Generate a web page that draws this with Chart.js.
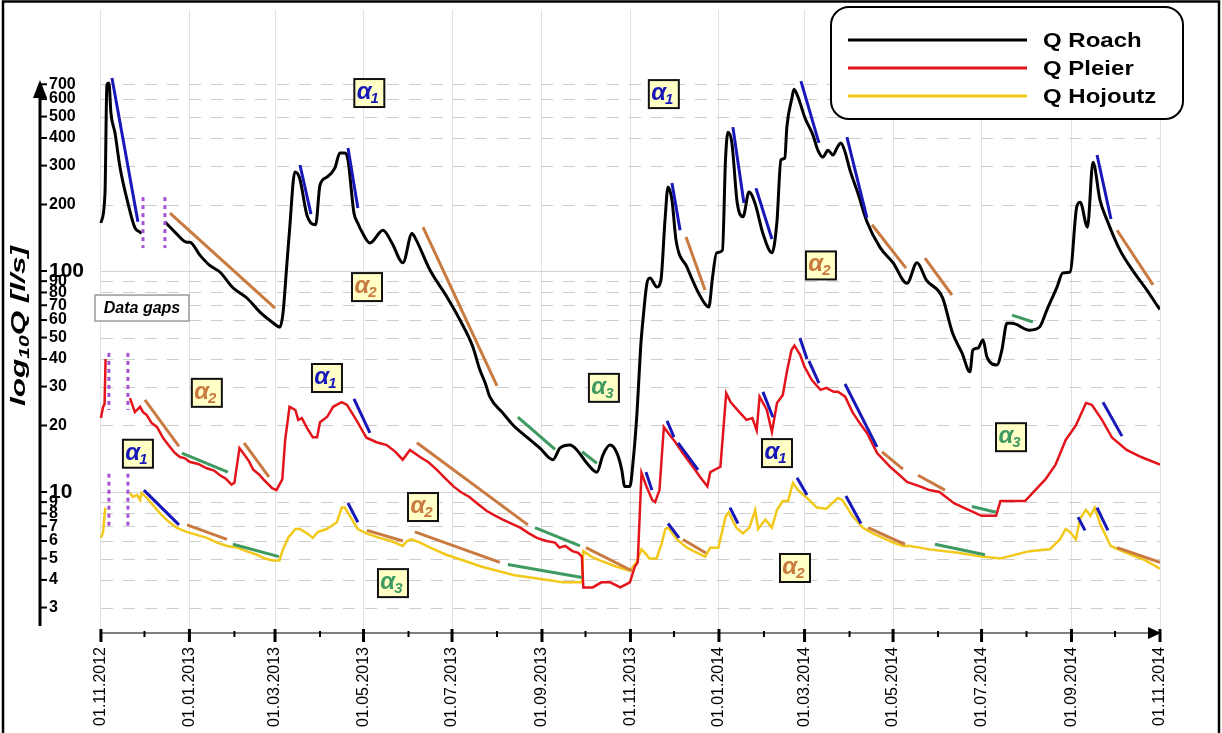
<!DOCTYPE html>
<html>
<head>
<meta charset="utf-8">
<script src="https://cdn.jsdelivr.net/npm/chart.js@4.4.1/dist/chart.umd.min.js"></script>
<style>
  html, body { margin: 0; padding: 0; background: #fff; }
</style>
</head>
<body>
<canvas id="chart" width="1222" height="733"></canvas>
<script>
const FONT = '"Liberation Sans", Arial, sans-serif';

// days since 01.11.2012 at each month start
const monthDays = [0, 30, 61, 92, 120, 151, 181, 212, 242, 273, 304, 334, 365, 395, 426, 457, 485, 516, 546, 577, 607, 638, 669, 699, 730];
const monthLabels = ['01.11.2012', '', '01.01.2013', '', '01.03.2013', '', '01.05.2013', '', '01.07.2013', '', '01.09.2013', '', '01.11.2013', '', '01.01.2014', '', '01.03.2014', '', '01.05.2014', '', '01.07.2014', '', '01.09.2014', '', '01.11.2014'];
const yTickValues = [3, 4, 5, 6, 7, 8, 9, 10, 20, 30, 40, 50, 60, 70, 80, 90, 100, 200, 300, 400, 500, 600, 700];

// Q Roach (black), null = data gap
const roachDays = [0, 2.8, 4.1, 5.5, 6.9, 9.7, 13.1, 18.6, 23.4, 26.9, 28, 36, 44.1, 51, 59.3, 61.3, 68.2, 75, 82, 91, 100.6, 109.6, 117.9, 123.4, 125.5, 128, 130, 133.7, 137, 142, 148, 151, 155.8, 161.3, 164.7, 168.2, 170.3, 174.4, 177, 180, 185.4, 194.4, 200.6, 208.2, 214.4, 216.4, 226.8, 238.5, 247.5, 256.4, 261, 265, 268, 277, 284, 293.6, 302.6, 311.6, 316.4, 323.3, 328, 335, 341.9, 346, 350.9, 355.7, 359, 361, 364.6, 366.7, 369.5, 372, 373.6, 376.4, 378.4, 383.3, 386, 388.8, 390.9, 393.6, 396.4, 404, 410.9, 417, 419, 421.6, 424.4, 428.4, 430.5, 432.2, 434.9, 438.6, 442.6, 446.7, 450.8, 456.3, 462.5, 465.9, 468.7, 471.4, 472.8, 476.3, 477.7, 480.5, 485.3, 490.8, 494.2, 497.7, 501.1, 504.6, 507.3, 510, 512.9, 516.3, 521.8, 528, 537, 546, 555.6, 562.5, 569, 580, 587, 593.5, 599, 601, 604.5, 608, 610.7, 617.6, 621, 624.5, 628, 640, 647, 652, 659, 663, 668, 672.6, 675, 680, 683.8, 688.6, 693.5, 702.5, 711, 721, 728.6, 730];
const roachQ = [165, 225, 694, 710, 518, 421, 296, 203, 157, 150, 148, null, 167, 150, 135, 135, 118, 106, 99, 84, 75.5, 65.2, 58.8, 55.8, 64.5, 104, 153, 281, 263, 179, 162, 245, 266, 293, 342, 342, 318, 183, 165, 150, 134, 153, 134, 109, 148, 142, 101, 76.3, 60, 45.3, 36, 31, 27, 22.8, 20.1, 17.7, 15.8, 14, 15.8, 16.3, 15.5, 13.5, 12.3, 14.7, 16.3, 15, 12.6, 10.6, 10.6, 13.5, 22.8, 45, 60, 88.3, 93, 84.6, 91, 170, 240, 209.5, 138, 104, 82, 70.2, 68.7, 94, 121, 124, 318, 425, 380, 203, 176, 228, 203, 148, 121, 165, 318, 325, 448, 607, 665, 613, 493, 412, 352, 328, 352, 335, 360, 380, 346, 286, 225, 167, 128, 109, 88, 109, 91, 76, 52.4, 42.6, 35, 43.9, 44.8, 48.7, 40.9, 37.6, 43.9, 58, 58, 54, 55.8, 66.6, 84.6, 98, 99, 195, 205, 158, 311, 210, 170, 124, 101, 82, 69, 67];

// Q Pleier (red)
const pleierDays = [0, 1.5, 2.5, 3.2, 10, 20, 23.4, 27, 29, 31.6, 35, 38.6, 43, 47.6, 51, 54.5, 58, 61, 67, 73, 78, 82, 86, 90, 92, 95.5, 98, 102, 105, 109, 112, 118, 121, 125, 127, 130, 134, 136, 138.5, 142, 146, 149, 151, 156, 160, 166, 169.6, 176, 183, 190, 197, 203, 208, 213, 220, 226, 231.6, 237, 243, 248, 254, 260, 266, 272, 277, 283, 289, 295, 300.5, 307, 313, 316, 320, 325, 329, 331.5, 332.5, 339, 345, 351, 358, 364.6, 368, 370, 372.6, 376, 380, 382, 385, 388, 391, 396, 401, 408, 413, 418, 420, 427, 431, 434, 440.5, 445, 449, 452, 454, 459, 462.5, 466, 470, 473, 476, 478, 482, 485, 490, 496, 500, 505, 508, 513, 518, 523, 528, 535, 544, 550, 555.6, 564.5, 571, 578, 588, 598, 607, 617, 620, 637, 644, 651, 658, 665, 672, 679, 683, 690, 697, 707, 717, 730];
const pleierQ = [21.6, 24.3, 25, 40, null, 26.6, 23, 24.3, 23, 22.3, 20.5, 19.7, 17.5, 16, 15, 14.4, 14.2, 13.7, 13.4, 12.8, 12.5, 11.9, 11.5, 10.8, 11, 15.8, 15, 13.8, 12.6, 12, 11.4, 10.4, 10.2, 11.4, 17.2, 24.3, 23.5, 21.2, 21.6, 19.5, 17.7, 17.7, 20.7, 21.9, 24.3, 25.5, 24.8, 21.2, 17.6, 16.8, 16.3, 15.2, 14, 15.5, 14.4, 13.6, 12.6, 11.6, 10.6, 10, 9.5, 8.8, 8.2, 7.8, 7.5, 7.2, 6.9, 6.5, 6.2, 6.0, 5.9, 5.6, 5.7, 5.4, 5.3, 5.1, 3.7, 3.7, 3.9, 3.9, 3.7, 3.9, 4.6, 4.8, 12.2, 10.6, 9.2, 9, 10.2, 19.7, 18.5, 16.8, 15, 13, 11.7, 10.6, 12.3, 13, 28, 25.5, 22.8, 21.2, 21.6, 19, 27, 23.5, 18.7, 25.3, 27.5, 35.6, 43.9, 46, 41.7, 36.8, 32.1, 29, 29.6, 28.4, 28.4, 27, 23, 20.5, 18.5, 15, 13, 12, 11.1, 10.6, 10.2, 10, 8.9, 8.3, 7.8, 7.8, 9.1, 9.1, 10.2, 11.4, 13.3, 17.2, 20, 25.3, 24.8, 21.2, 17.6, 15.5, 14.4, 13.3];

// Q Hojoutz (yellow)
const hojoutzDays = [0, 1.5, 3, 10, 20, 22, 25, 27, 28, 31.6, 36, 40.7, 46, 52, 59, 66, 73, 80, 87, 94, 100, 107.6, 113, 118.6, 123, 125.5, 129, 134, 137, 142, 146, 149.6, 155.6, 162.6, 166, 168, 171.6, 177, 183, 192, 200, 208, 211, 214, 220, 227, 238, 250, 262, 273, 285, 296, 308, 318.6, 331.6, 332.5, 338, 344, 355, 364.6, 369, 372.6, 375, 378, 383, 386.7, 389, 391, 397, 404, 411, 416.5, 420, 425.6, 430.5, 432.6, 438, 442.5, 447, 451, 453, 458, 462.5, 466, 470, 473.6, 477, 480.5, 486.6, 493.5, 500, 508, 511, 518, 525, 532, 539, 546, 553, 557.6, 564.5, 571, 592, 607, 620, 640, 654, 661, 665, 668, 672, 675, 679, 682, 685, 689, 696, 710, 720, 730];
const hojoutzQ = [6.2, 6.6, 8.5, null, 9.9, 9.5, 9.7, 9.2, 9.9, 9.4, 8.7, 8, 7.4, 6.9, 6.6, 6.4, 6.2, 5.9, 5.7, 5.6, 5.4, 5.2, 5.0, 4.9, 4.9, 5.5, 6.2, 6.8, 6.8, 6.5, 6.2, 6.6, 6.8, 7.3, 8.5, 8.5, 7.8, 6.8, 6.5, 6.2, 6.0, 5.7, 6.0, 6.1, 5.9, 5.6, 5.2, 4.9, 4.6, 4.4, 4.2, 4.1, 4.0, 3.9, 3.9, 5.4, 5.1, 4.9, 4.6, 4.4, 4.8, 5.5, 5.3, 5.0, 5.0, 5.9, 6.8, 6.9, 6.1, 5.6, 5.3, 5.1, 5.6, 5.6, 7.7, 8.1, 6.9, 6.5, 6.9, 8.3, 6.8, 7.5, 6.9, 8.3, 9.1, 9.1, 11, 10.2, 9.4, 8.5, 8.4, 9.4, 9.2, 7.8, 6.9, 6.5, 6.2, 5.9, 5.7, 5.7, 5.6, 5.5, 5.3, 5.1, 5.0, 5.4, 5.5, 6.1, 6.8, 6.6, 6.1, 7.6, 8.3, 7.8, 8.5, 7.1, 5.7, 5.2, 4.9, 4.5];

// recession segments: [startDay, startQ, endDay, endQ]
const alpha1Segs = [
  [7.6, 747, 25.5, 167], [137.2, 302, 144.8, 181], [170.3, 360, 177.1, 193], [393.6, 250, 399.2, 153],
  [435.6, 448, 443.2, 203], [451.5, 237, 462.5, 139.6], [482.5, 724, 494.9, 380], [514.2, 404, 528, 174],
  [686.6, 335, 696.2, 172],
  [174.4, 26.4, 185.4, 18.5], [375.7, 12.3, 379.8, 10.2], [390.2, 21, 395, 17.7], [397.8, 16.7, 411.6, 12.6],
  [456.3, 28.4, 463.2, 21.8], [481.8, 49.8, 486.7, 40], [488, 39.2, 494.9, 31.1], [512.9, 30.8, 534.9, 16],
  [690.7, 25.5, 703.8, 17.9],
  [29.6, 10.2, 53.8, 7.1], [170.3, 8.9, 177.1, 7.3], [390.9, 7.2, 398.5, 6.2], [433.6, 8.5, 439.1, 7.2],
  [479.8, 11.6, 486.7, 9.7], [513.5, 9.6, 523.9, 7.2], [673.5, 7.7, 678.3, 6.7], [686.6, 8.5, 694.1, 6.7]
];
const alpha2Segs = [
  [47.6, 183, 120, 68], [222, 158, 273, 30.2], [403.3, 142.5, 416.4, 82], [531.5, 162, 554.9, 103],
  [568, 114.5, 586.6, 77.9], [700.4, 153, 725.2, 86.5],
  [30.3, 26.1, 53.8, 16.1], [98.6, 16.7, 115.8, 11.7], [217.8, 16.7, 294.3, 7.1], [334.3, 5.6, 366, 4.4],
  [538.4, 15.2, 552.8, 12.7], [563.2, 11.9, 581.8, 10.2],
  [59.3, 7.1, 86.9, 6.1], [183.4, 6.7, 208.2, 6.0], [216.4, 6.6, 275, 4.8], [401.2, 6.1, 417, 5.3],
  [528.7, 6.9, 554.2, 5.8], [700.4, 5.6, 730, 4.8]
];
const alpha3Segs = [
  [287.4, 21.8, 313, 15.6], [331.6, 15.2, 341.9, 13.5], [628, 63.2, 642.4, 58.8],
  [55.8, 15, 87.5, 12.3], [299.2, 6.9, 330.2, 5.7], [600.4, 8.6, 617, 8.1],
  [91, 5.8, 122.7, 5.1], [280.5, 4.7, 331.6, 4.1], [574.9, 5.8, 609.4, 5.2]
];

// data gap markers: [day, topQ, bottomQ]
const gapLines = [[29, 216, 127], [44.1, 216, 127], [5.5, 42.6, 23.5], [18.6, 42.6, 23.5], [5.5, 12.1, 6.9], [18.6, 12.1, 6.9]];

// alpha label boxes
const alphaDays = [185, 388, 183.4, 496.3, 73, 155.8, 25.5, 346.7, 222, 201.3, 466, 478.4, 627.3];
const alphaQ = [639, 632, 84.6, 106, 28.1, 32.8, 14.9, 29.6, 8.55, 3.87, 15, 4.53, 17.7];
const alphaKind = [1, 1, 2, 2, 2, 1, 1, 3, 2, 3, 1, 2, 3];

const seriesNames = ['Q Roach', 'Q Pleier', 'Q Hojoutz'];
const seriesColors = ['#000000', '#e3141b', '#f2c81a'];
const alphaColors = { 1: '#1818b8', 2: '#c87a40', 3: '#3f9a62' };

function toPoints(days, vals) {
  return days.map((d, i) => ({ x: d, y: vals[i] }));
}

function segDataset(seg, color) {
  return {
    data: [{ x: seg[0], y: seg[1] }, { x: seg[2], y: seg[3] }],
    borderColor: color, borderWidth: 3, pointRadius: 0, fill: false
  };
}

const datasets = [];
alpha1Segs.forEach(s => datasets.push(segDataset(s, alphaColors[1])));
alpha2Segs.forEach(s => datasets.push(segDataset(s, alphaColors[2])));
alpha3Segs.forEach(s => datasets.push(segDataset(s, alphaColors[3])));
gapLines.forEach(g => datasets.push({
  data: [{ x: g[0], y: g[1] }, { x: g[0], y: g[2] }],
  borderColor: '#a552d2', borderWidth: 3, borderDash: [4, 4], pointRadius: 0
}));
datasets.push({ label: seriesNames[0], data: toPoints(roachDays, roachQ), borderColor: seriesColors[0], borderWidth: 3, pointRadius: 0, cubicInterpolationMode: 'monotone' });
datasets.push({ label: seriesNames[1], data: toPoints(pleierDays, pleierQ), borderColor: seriesColors[1], borderWidth: 2.5, pointRadius: 0 });
datasets.push({ label: seriesNames[2], data: toPoints(hojoutzDays, hojoutzQ), borderColor: seriesColors[2], borderWidth: 2.5, pointRadius: 0 });

function roundRectPath(ctx, x, y, w, h, r) {
  ctx.beginPath();
  ctx.moveTo(x + r, y);
  ctx.lineTo(x + w - r, y);
  ctx.arcTo(x + w, y, x + w, y + r, r);
  ctx.lineTo(x + w, y + h - r);
  ctx.arcTo(x + w, y + h, x + w - r, y + h, r);
  ctx.lineTo(x + r, y + h);
  ctx.arcTo(x, y + h, x, y + h - r, r);
  ctx.lineTo(x, y + r);
  ctx.arcTo(x, y, x + r, y, r);
  ctx.closePath();
}

function drawAlphaBox(ctx, cx, cy, n, color) {
  const w = 30, h = 28;
  ctx.fillStyle = '#ffffc6';
  ctx.fillRect(cx - w / 2, cy - h / 2, w, h);
  ctx.lineWidth = 2;
  ctx.strokeStyle = '#111';
  ctx.strokeRect(cx - w / 2, cy - h / 2, w, h);
  const big = 'italic bold 24px ' + FONT, small = 'italic bold 15px ' + FONT;
  ctx.font = big;
  const aw = ctx.measureText('\u03b1').width;
  ctx.font = small;
  const nw = ctx.measureText(String(n)).width;
  const x0 = cx - (aw + nw) / 2 - 1;
  ctx.fillStyle = color;
  ctx.textAlign = 'left';
  ctx.textBaseline = 'alphabetic';
  ctx.font = big;
  ctx.fillText('\u03b1', x0, cy + 6);
  ctx.font = small;
  ctx.fillText(String(n), x0 + aw - 1, cy + 10);
}

const decor = {
  id: 'decor',
  beforeDraw(chart) {
    const ctx = chart.ctx;
    ctx.save();
    ctx.fillStyle = '#fff';
    ctx.fillRect(0, 0, chart.width, chart.height);
    ctx.restore();
  },
  beforeDatasetsDraw(chart) {
    const { ctx, scales: { x, y } } = chart;
    const x0 = x.getPixelForValue(0), x1 = x.getPixelForValue(730);
    ctx.save();
    ctx.lineWidth = 1;
    yTickValues.forEach(v => {
      const py = Math.round(y.getPixelForValue(v)) + 0.5;
      const solid = v === 10 || v === 100;
      ctx.strokeStyle = solid ? '#d2d2d2' : '#cdcdcd';
      ctx.setLineDash(solid ? [] : [12, 10]);
      ctx.beginPath();
      ctx.moveTo(x0, py);
      ctx.lineTo(x1, py);
      ctx.stroke();
    });
    ctx.restore();
  },
  afterDatasetsDraw(chart) {
    const { ctx, scales: { x, y }, chartArea } = chart;
    ctx.save();
    // y axis with arrow
    const ax = 40;
    ctx.strokeStyle = '#000';
    ctx.fillStyle = '#000';
    ctx.lineWidth = 3;
    ctx.beginPath();
    ctx.moveTo(ax, 96);
    ctx.lineTo(ax, 626);
    ctx.stroke();
    ctx.beginPath();
    ctx.moveTo(ax, 80);
    ctx.lineTo(ax - 7, 98);
    ctx.lineTo(ax + 7, 98);
    ctx.closePath();
    ctx.fill();
    ctx.lineWidth = 2;
    yTickValues.forEach(v => {
      const py = y.getPixelForValue(v);
      ctx.beginPath();
      ctx.moveTo(ax, py);
      ctx.lineTo(ax + 7, py);
      ctx.stroke();
    });
    // x axis with arrow
    const ay = chartArea.bottom + 1;
    const xs = x.getPixelForValue(0), xe = x.getPixelForValue(730);
    ctx.strokeStyle = '#555';
    ctx.lineWidth = 1.5;
    ctx.beginPath();
    ctx.moveTo(xs, ay);
    ctx.lineTo(xe - 8, ay);
    ctx.stroke();
    ctx.strokeStyle = '#000';
    monthDays.forEach((d, i) => {
      const px = x.getPixelForValue(d);
      const major = monthLabels[i] !== '';
      ctx.lineWidth = major ? 3 : 2;
      ctx.beginPath();
      ctx.moveTo(px, major ? ay - 4 : ay - 2);
      ctx.lineTo(px, major ? ay + 9 : ay + 4);
      ctx.stroke();
    });
    ctx.beginPath();
    ctx.moveTo(xe + 1, ay);
    ctx.lineTo(xe - 12, ay - 6);
    ctx.lineTo(xe - 12, ay + 6);
    ctx.closePath();
    ctx.fill();

    // alpha labels
    alphaDays.forEach((d, i) => {
      drawAlphaBox(ctx, x.getPixelForValue(d), y.getPixelForValue(alphaQ[i]), alphaKind[i], alphaColors[alphaKind[i]]);
    });

    // data gaps note
    const gx = x.getPixelForValue(28.3), gy = y.getPixelForValue(68);
    ctx.fillStyle = '#fff';
    ctx.fillRect(gx - 47, gy - 13, 94, 26);
    ctx.strokeStyle = '#9a9a9a';
    ctx.lineWidth = 1.5;
    ctx.strokeRect(gx - 47, gy - 13, 94, 26);
    ctx.fillStyle = '#000';
    ctx.font = 'italic bold 16px ' + FONT;
    ctx.textAlign = 'center';
    ctx.textBaseline = 'middle';
    ctx.fillText('Data gaps', gx, gy + 1);
    ctx.restore();
  },
  afterDraw(chart) {
    const ctx = chart.ctx;
    ctx.save();
    // legend
    ctx.fillStyle = '#fff';
    roundRectPath(ctx, 831, 7, 352, 112, 18);
    ctx.fill();
    ctx.strokeStyle = '#000';
    ctx.lineWidth = 2;
    ctx.stroke();
    const rows = [40, 68, 96];
    seriesNames.forEach((name, i) => {
      ctx.strokeStyle = seriesColors[i];
      ctx.lineWidth = 3;
      ctx.beginPath();
      ctx.moveTo(848, rows[i]);
      ctx.lineTo(1027, rows[i]);
      ctx.stroke();
      ctx.save();
      ctx.translate(1043, rows[i] + 7);
      ctx.scale(1.2, 1);
      ctx.fillStyle = '#000';
      ctx.font = 'bold 20px ' + FONT;
      ctx.textAlign = 'left';
      ctx.textBaseline = 'alphabetic';
      ctx.fillText(name, 0, 0);
      ctx.restore();
    });

    // y axis title log10Q [l/s]
    ctx.save();
    ctx.translate(18, 326);
    ctx.rotate(-Math.PI / 2);
    ctx.scale(1.5, 1);
    const big = 'italic bold 21px ' + FONT, sub = 'italic bold 14px ' + FONT;
    ctx.font = big;
    const w1 = ctx.measureText('log').width, w3 = ctx.measureText('Q [l/s]').width;
    ctx.font = sub;
    const w2 = ctx.measureText('10').width;
    let tx = -(w1 + w2 + w3) / 2;
    ctx.fillStyle = '#000';
    ctx.textBaseline = 'alphabetic';
    ctx.textAlign = 'left';
    ctx.font = big;
    ctx.fillText('log', tx, 7);
    tx += w1;
    ctx.font = sub;
    ctx.fillText('10', tx, 11);
    tx += w2;
    ctx.font = big;
    ctx.fillText('Q [l/s]', tx, 7);
    ctx.restore();

    // outer frame
    ctx.strokeStyle = '#000';
    ctx.lineWidth = 2.5;
    ctx.strokeRect(3, 1.5, 1216, 760);
    ctx.restore();
  }
};

new Chart(document.getElementById('chart'), {
  type: 'line',
  data: { datasets: datasets },
  options: {
    responsive: false,
    animation: false,
    layout: { padding: { left: 0, top: 10, right: 62, bottom: 0 } },
    plugins: { legend: { display: false }, tooltip: { enabled: false } },
    elements: { line: { tension: 0 } },
    scales: {
      x: {
        type: 'linear',
        min: -42,
        max: 730,
        afterBuildTicks: s => { s.ticks = monthDays.map(v => ({ value: v })); },
        afterFit: s => { s.height = 101; s.paddingLeft = 0; s.paddingRight = 0; },
        ticks: {
          autoSkip: false,
          minRotation: 90,
          maxRotation: 90,
          padding: 15,
          color: '#000',
          font: { family: FONT, size: 16 },
          callback: (v, i) => monthLabels[i]
        },
        grid: {
          drawTicks: false,
          lineWidth: 1,
          color: c => (c.tick && monthLabels[monthDays.indexOf(c.tick.value)]) ? '#e2e2e2' : 'rgba(0,0,0,0)'
        },
        border: { display: false }
      },
      y: {
        type: 'logarithmic',
        min: 2.325,
        max: 1518,
        afterBuildTicks: s => { s.ticks = yTickValues.map(v => ({ value: v })); },
        afterFit: s => { s.width = 40; s.paddingTop = 0; s.paddingBottom = 0; },
        ticks: {
          autoSkip: false,
          mirror: true,
          padding: 9,
          color: '#000',
          font: c => ({ family: FONT, weight: 'bold', size: (c.tick && (c.tick.value === 10 || c.tick.value === 100)) ? 21 : 16 }),
          callback: v => String(v)
        },
        grid: { display: false, drawTicks: false },
        border: { display: false }
      }
    }
  },
  plugins: [decor]
});
</script>
</body>
</html>
